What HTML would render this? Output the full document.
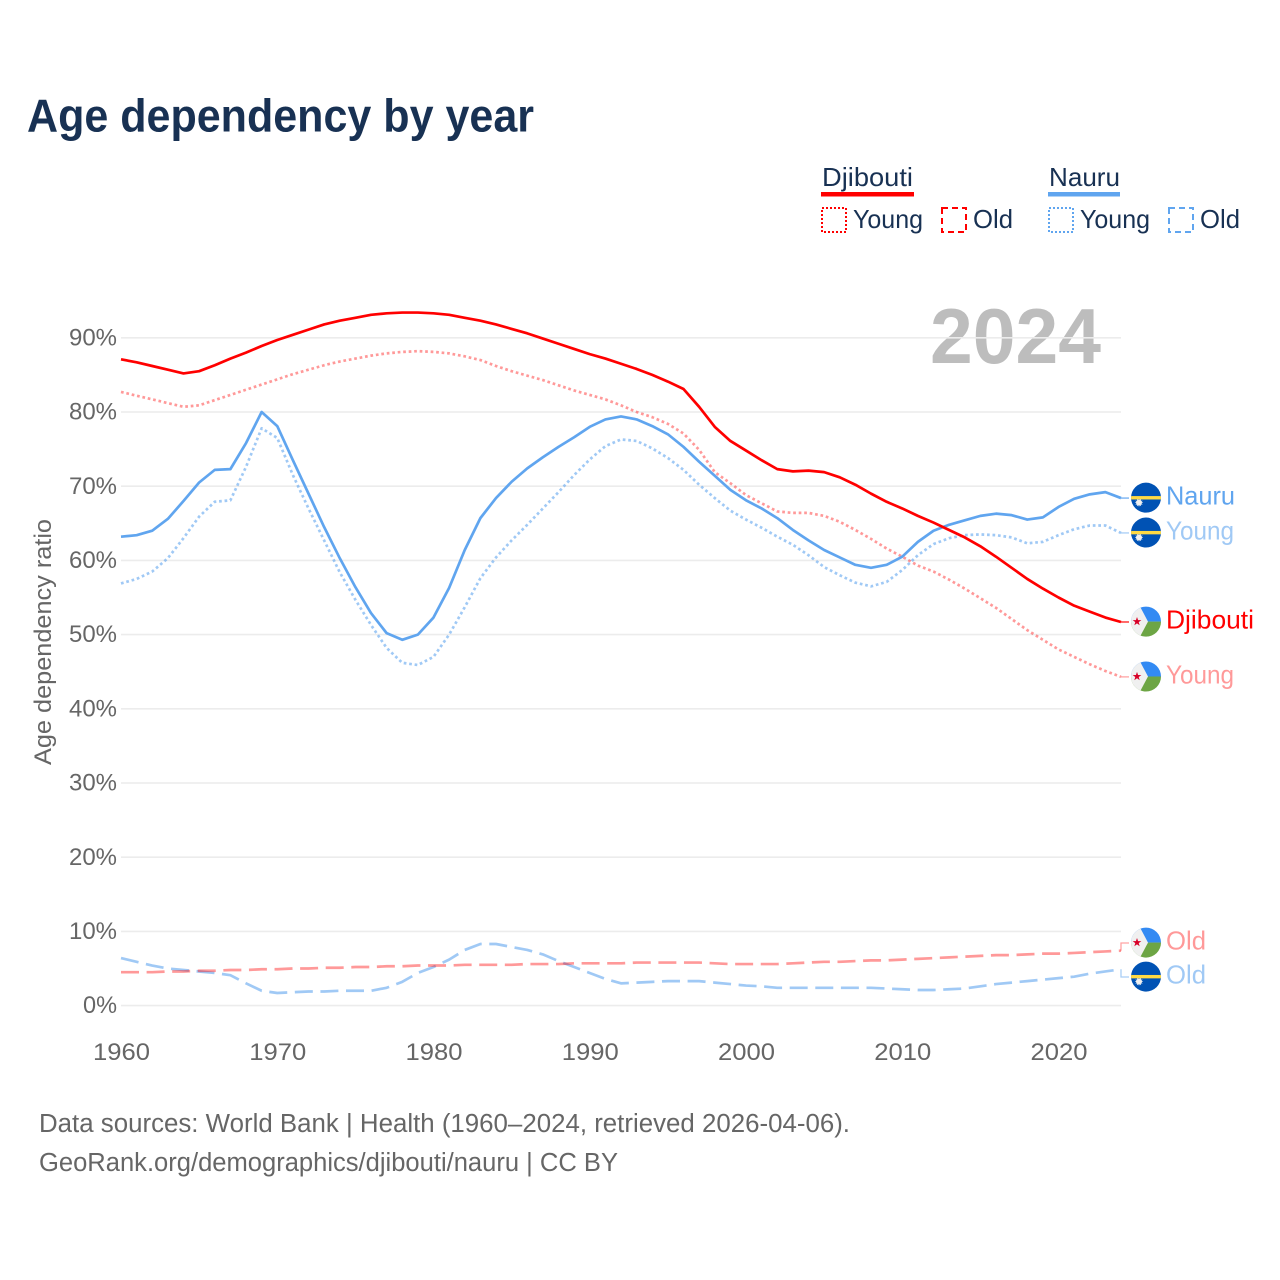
<!DOCTYPE html>
<html lang="en">
<head>
<meta charset="utf-8">
<title>Age dependency by year</title>
<style>
  html, body { margin: 0; padding: 0; background: #fff; }
  svg { display: block; font-family: "Liberation Sans", sans-serif; }
</style>
</head>
<body>
<svg id="chart" xmlns="http://www.w3.org/2000/svg" width="1280" height="1280" viewBox="0 0 1280 1280">
  <rect x="0" y="0" width="1280" height="1280" fill="#ffffff"/>
  <text x="27" y="131.5" font-size="46" font-weight="700" fill="#183153" textLength="507" lengthAdjust="spacingAndGlyphs">Age dependency by year</text>

  <g>
    <text x="822" y="186" font-size="26" fill="#183153" textLength="91" lengthAdjust="spacingAndGlyphs">Djibouti</text>
    <rect x="821" y="192" width="93" height="4.5" fill="#ff0000"/>
    <rect x="822" y="208" width="24" height="24" fill="none" stroke="#ff0000" stroke-width="2" stroke-dasharray="2 2"/>
    <text x="853" y="228" font-size="26" fill="#183153" textLength="70" lengthAdjust="spacingAndGlyphs">Young</text>
    <rect x="942" y="208" width="24" height="24" fill="none" stroke="#ff0000" stroke-width="2" stroke-dasharray="6 4"/>
    <text x="973" y="228" font-size="26" fill="#183153" textLength="40" lengthAdjust="spacingAndGlyphs">Old</text>

    <text x="1049" y="186" font-size="26" fill="#183153" textLength="71" lengthAdjust="spacingAndGlyphs">Nauru</text>
    <rect x="1048" y="192" width="72" height="4.5" fill="#60a5ef"/>
    <rect x="1049" y="208" width="24" height="24" fill="none" stroke="#60a5ef" stroke-width="2" stroke-dasharray="2 2"/>
    <text x="1080" y="228" font-size="26" fill="#183153" textLength="70" lengthAdjust="spacingAndGlyphs">Young</text>
    <rect x="1169" y="208" width="24" height="24" fill="none" stroke="#60a5ef" stroke-width="2" stroke-dasharray="6 4"/>
    <text x="1200" y="228" font-size="26" fill="#183153" textLength="40" lengthAdjust="spacingAndGlyphs">Old</text>
  </g>

  <text x="930" y="363" font-size="78" font-weight="700" fill="#bdbdbd" textLength="171" lengthAdjust="spacingAndGlyphs">2024</text>
  <text transform="translate(51 642) rotate(-90)" text-anchor="middle" font-size="24.5" fill="#666666" textLength="246" lengthAdjust="spacingAndGlyphs">Age dependency ratio</text>

  <g id="grid"></g>
  <g id="y-ticks"></g>
  <g id="x-ticks"></g>
  <g id="series"></g>
  <g id="end-labels"></g>

  <text x="39" y="1132" font-size="25.5" fill="#666666" textLength="811" lengthAdjust="spacingAndGlyphs">Data sources: World Bank | Health (1960–2024, retrieved 2026-04-06).</text>
  <text x="39" y="1171" font-size="25.5" fill="#666666" textLength="579" lengthAdjust="spacingAndGlyphs">GeoRank.org/demographics/djibouti/nauru | CC BY</text>
</svg>
<script>
const years = [1960,1961,1962,1963,1964,1965,1966,1967,1968,1969,1970,1971,1972,1973,1974,1975,1976,1977,1978,1979,1980,1981,1982,1983,1984,1985,1986,1987,1988,1989,1990,1991,1992,1993,1994,1995,1996,1997,1998,1999,2000,2001,2002,2003,2004,2005,2006,2007,2008,2009,2010,2011,2012,2013,2014,2015,2016,2017,2018,2019,2020,2021,2022,2023,2024];
const djiboutiTotal = [87.1,86.7,86.2,85.7,85.2,85.5,86.3,87.2,88.0,88.9,89.7,90.4,91.1,91.8,92.3,92.7,93.1,93.3,93.4,93.4,93.3,93.1,92.7,92.3,91.8,91.2,90.6,89.9,89.2,88.5,87.8,87.2,86.5,85.8,85.0,84.1,83.1,80.7,78.0,76.1,74.8,73.5,72.3,72.0,72.1,71.9,71.2,70.2,69.0,67.9,67.0,66.0,65.1,64.1,63.1,61.9,60.5,59.0,57.5,56.2,55.0,53.9,53.1,52.3,51.7];
const djiboutiYoung = [82.7,82.2,81.7,81.2,80.7,80.9,81.6,82.3,83.0,83.7,84.4,85.1,85.7,86.3,86.8,87.2,87.6,87.9,88.1,88.2,88.1,87.9,87.5,87.0,86.2,85.5,84.9,84.3,83.6,82.9,82.3,81.7,80.9,80.0,79.3,78.4,77.1,74.9,71.9,70.4,68.8,67.7,66.6,66.4,66.4,66.0,65.2,64.1,62.9,61.6,60.5,59.3,58.5,57.4,56.2,54.9,53.6,52.1,50.6,49.3,48.0,47.0,46.0,45.1,44.3];
const djiboutiOld = [4.5,4.5,4.5,4.6,4.6,4.7,4.7,4.8,4.8,4.9,4.9,5.0,5.0,5.1,5.1,5.2,5.2,5.3,5.3,5.4,5.4,5.4,5.5,5.5,5.5,5.5,5.6,5.6,5.6,5.7,5.7,5.7,5.7,5.8,5.8,5.8,5.8,5.8,5.7,5.6,5.6,5.6,5.6,5.7,5.8,5.9,5.9,6.0,6.1,6.1,6.2,6.3,6.4,6.5,6.6,6.7,6.8,6.8,6.9,7.0,7.0,7.1,7.2,7.3,7.4];
const nauruTotal = [63.2,63.4,64.0,65.6,68.0,70.5,72.2,72.3,75.8,80.0,78.1,73.5,69.0,64.5,60.3,56.4,52.9,50.2,49.3,50.0,52.3,56.3,61.4,65.7,68.4,70.6,72.4,73.9,75.3,76.6,78.0,79.0,79.4,79.0,78.1,77.0,75.3,73.3,71.4,69.5,68.1,67.0,65.7,64.1,62.7,61.4,60.4,59.4,59.0,59.4,60.5,62.5,64.0,64.8,65.4,66.0,66.3,66.1,65.5,65.8,67.2,68.3,68.9,69.2,68.4];
const nauruYoung = [56.9,57.5,58.5,60.3,63.0,65.9,67.9,68.1,72.6,77.8,76.5,71.5,67.0,62.7,58.4,54.7,51.3,48.2,46.2,45.9,47.0,50.0,53.7,57.6,60.4,62.7,64.8,67.0,69.2,71.5,73.6,75.4,76.3,76.1,75.1,73.8,72.2,70.2,68.4,66.7,65.5,64.4,63.2,62.1,60.7,59.1,58.0,57.0,56.5,57.1,58.7,60.7,62.2,63.0,63.4,63.5,63.4,63.1,62.3,62.5,63.4,64.2,64.7,64.7,63.7];
const nauruOld = [6.4,5.9,5.4,5.0,4.8,4.6,4.4,4.1,3.0,2.0,1.7,1.8,1.9,1.9,2.0,2.0,2.0,2.4,3.2,4.4,5.2,6.2,7.5,8.3,8.3,7.9,7.5,6.9,6.0,5.2,4.4,3.6,3.0,3.1,3.2,3.3,3.3,3.3,3.1,2.9,2.7,2.6,2.4,2.4,2.4,2.4,2.4,2.4,2.4,2.3,2.2,2.1,2.1,2.2,2.3,2.6,2.9,3.1,3.3,3.5,3.7,3.9,4.3,4.6,4.9];
const yTickValues = [0,10,20,30,40,50,60,70,80,90];
const xTickValues = [1960,1970,1980,1990,2000,2010,2020];

const SVG_NS = 'http://www.w3.org/2000/svg';
const plot = { left: 121, right: 1121, zero: 1005.6, perUnit: 7.42 };
function xScale(year) {
  const first = years[0], last = years[years.length - 1];
  return plot.left + (year - first) * (plot.right - plot.left) / (last - first);
}
function yScale(value) {
  return plot.zero - value * plot.perUnit;
}
function make(tag, attrs, parent) {
  const el = document.createElementNS(SVG_NS, tag);
  for (const key in attrs) el.setAttribute(key, attrs[key]);
  parent.appendChild(el);
  return el;
}

const gridGroup = document.getElementById('grid');
const yTickGroup = document.getElementById('y-ticks');
const xTickGroup = document.getElementById('x-ticks');
const seriesGroup = document.getElementById('series');
const labelGroup = document.getElementById('end-labels');

yTickValues.forEach(function (v) {
  const line = make('line', { x1: plot.left, x2: plot.right, y1: yScale(v), y2: yScale(v), stroke: '#ececec', 'stroke-width': 1.6 }, gridGroup);
  
  
  const label = v + '%';
  const t = make('text', { x: 117, y: yScale(v) + 7.6, 'text-anchor': 'end', 'font-size': 24.5, fill: '#666666', textLength: 20 + 14 * String(v).length, lengthAdjust: 'spacingAndGlyphs' }, yTickGroup);
  t.textContent = label;
  
  
});

xTickValues.forEach(function (year) {
  const t = make('text', { x: xScale(year) + 0.5, y: 1060, 'text-anchor': 'middle', 'font-size': 24.5, fill: '#666666', textLength: 57, lengthAdjust: 'spacingAndGlyphs' }, xTickGroup);
  t.textContent = String(year);
  
  
});

const RED = '#ff0000', BLUE = '#60a5ef';
const DOT = '2.7 2.8', DASH = '18 7.6';
const seriesList = [
  { key: 'nauru-old', values: nauruOld, color: BLUE, opacity: 0.6, dash: DASH, label: 'Old', flag: 'nauru' },
  { key: 'djibouti-old', values: djiboutiOld, color: RED, opacity: 0.4, dash: DASH, label: 'Old', flag: 'djibouti' },
  { key: 'nauru-young', values: nauruYoung, color: BLUE, opacity: 0.6, dash: DOT, label: 'Young', flag: 'nauru' },
  { key: 'djibouti-young', values: djiboutiYoung, color: RED, opacity: 0.4, dash: DOT, label: 'Young', flag: 'djibouti' },
  { key: 'nauru-total', values: nauruTotal, color: BLUE, opacity: 1, dash: null, label: 'Nauru', flag: 'nauru' },
  { key: 'djibouti-total', values: djiboutiTotal, color: RED, opacity: 1, dash: null, label: 'Djibouti', flag: 'djibouti' }
];

seriesList.forEach(function (s) {
  const points = s.values.map(function (v, i) { return xScale(years[i]).toFixed(2) + ',' + yScale(v).toFixed(2); }).join(' ');
  const attrs = { points: points, fill: 'none', stroke: s.color, 'stroke-opacity': s.opacity, 'stroke-width': 2.7, 'stroke-linejoin': 'round' };
  if (s.dash) attrs['stroke-dasharray'] = s.dash;
  const line = make('polyline', attrs, seriesGroup);
  
  
});

/* end labels: sit at the series' last value, pushed apart when they would collide */
const MIN_GAP = 34;
const placed = seriesList.map(function (s) {
  const lineY = yScale(s.values[s.values.length - 1]);
  return { s: s, lineY: lineY, y: lineY };
}).sort(function (a, b) { return a.lineY - b.lineY; });
for (let pass = 0; pass < 8; pass++) {
  for (let i = 1; i < placed.length; i++) {
    const gap = placed[i].y - placed[i - 1].y;
    if (gap < MIN_GAP) {
      const shift = (MIN_GAP - gap) / 2;
      placed[i].y += shift;
      placed[i - 1].y -= shift;
    }
  }
}

function starPoints(cx, cy, outer, inner, count) {
  const pts = [];
  for (let i = 0; i < count * 2; i++) {
    const r = i % 2 ? inner : outer;
    const a = -Math.PI / 2 + i * Math.PI / count;
    pts.push((cx + r * Math.cos(a)).toFixed(2) + ',' + (cy + r * Math.sin(a)).toFixed(2));
  }
  return pts.join(' ');
}

const defs = make('defs', {}, document.getElementById('chart'));
const clip = make('clipPath', { id: 'flag-clip' }, defs);
make('circle', { cx: 0, cy: 0, r: 15 }, clip);

function drawFlag(kind, cx, cy) {
  const outer = make('g', { transform: 'translate(' + cx + ' ' + cy + ')' }, labelGroup);
  
  
  const g = make('g', { 'clip-path': 'url(#flag-clip)' }, outer);
  if (kind === 'nauru') {
    make('rect', { x: -16, y: -16, width: 32, height: 32, fill: '#0052b4' }, g);
    make('rect', { x: -16, y: -1.6, width: 32, height: 3.4, fill: '#ffda44' }, g);
    make('polygon', { points: starPoints(-7, 5, 4.2, 2.6, 12), fill: '#f0f0f0' }, g);
  } else {
    make('rect', { x: -16, y: -16, width: 32, height: 16, fill: '#338af3' }, g);
    make('rect', { x: -16, y: 0, width: 32, height: 16, fill: '#6da544' }, g);
    make('polygon', { points: '-16,-16 -6.5,-16 2,0 -6.5,16 -16,16', fill: '#f0f0f0' }, g);
    make('polygon', { points: starPoints(-9, 0, 4.6, 1.8, 5), fill: '#d80027' }, g);
  }
}

placed.forEach(function (p) {
  const s = p.s;
  const connAttrs = {
    d: 'M' + plot.right + ' ' + p.lineY.toFixed(2) + ' V' + p.y.toFixed(2) + ' H1129',
    fill: 'none', stroke: s.color, 'stroke-opacity': s.opacity * 0.9, 'stroke-width': 1.3
  };
  const conn = make('path', connAttrs, labelGroup);
  
  

  drawFlag(s.flag, 1146, p.y - 0.4);

  const widths = { Nauru: 69, Young: 68, Djibouti: 88, Old: 40 };
  const t = make('text', {
    x: 1166, y: p.y + 6.6, 'font-size': 26, fill: s.color, 'fill-opacity': s.opacity,
    textLength: widths[s.label], lengthAdjust: 'spacingAndGlyphs'
  }, labelGroup);
  t.textContent = s.label;
  
  
});
</script>
</body>
</html>
